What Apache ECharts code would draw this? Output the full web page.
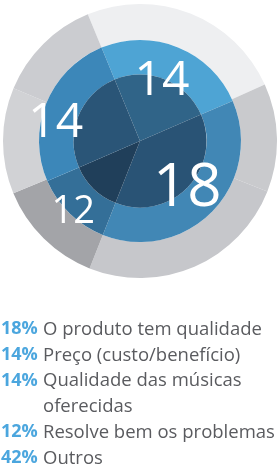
<!DOCTYPE html>
<html>
<head>
<meta charset="utf-8">
<script src="https://cdn.jsdelivr.net/npm/echarts@6/dist/echarts.min.js"></script>
<style>
html,body{margin:0;padding:0;background:#fff;}
#c{width:279px;height:465px;}
</style>
</head>
<body>
<div id="c"></div>
<script>
// Sector labels (values printed on the chart), clockwise from top
const sectorLabels = ['14', '18', '12', '14'];
// Angular size of each sector in degrees
const sectorAngles = [89, 135, 45, 91];
// Outer ring sub-segments (degrees)
const outerAngles = [88, 46, 90, 46, 45, 45];
// Legend rows
const legendPercents = ['18%', '14%', '14%', '12%', '42%'];
const legendTexts = ['O produto tem qualidade', 'Preço (custo/benefício)', 'Qualidade das músicas\noferecidas', 'Resolve bem os problemas', 'Outros'];

const chart = echarts.init(document.getElementById('c'), null, {renderer: 'canvas'});
const center = [140, 141];
const startAngle = 112.4;

const outerColors = ['#eeeff1', '#c9cacd', '#c6c7cb', '#a3a4a8', '#d1d2d5', '#cbccd0'];
const blueColors = ['#4ea4d4', '#4187b5', '#346f98', '#3c87b9'];
const innerColors = ['#306488', '#295375', '#203f5a', '#2a5577'];
const labelSizes = [48, 60, 38, 48];
const labelShift = [[-5, 7], [-4, -2], [-17, 20], [-18, 9]];

function pieData(vals, colors) {
  return vals.map((v, i) => ({value: v, itemStyle: {color: colors[i]}}));
}

const graphics = [];
let row = 0;
const y0 = 320, lh = 25.8;
legendTexts.forEach((t, i) => {
  const lines = t.split('\n');
  graphics.push({
    type: 'text', left: 1, top: y0 + row * lh,
    style: {text: legendPercents[i], font: 'bold 18px "Open Sans"', fill: '#4ba6de'}
  });
  lines.forEach((ln, j) => {
    graphics.push({
      type: 'text', left: 43, top: y0 + (row + j) * lh,
      style: {text: ln, font: '18.5px "Open Sans"', fill: '#5a5b5f'}
    });
  });
  row += lines.length;
});

chart.setOption({
  animation: false,
  series: [
    {
      type: 'pie', center: center, radius: [101, 137], startAngle: startAngle,
      silent: true, label: {show: false}, labelLine: {show: false},
      data: pieData(outerAngles, outerColors)
    },
    {
      type: 'pie', center: center, radius: [66.5, 101], startAngle: startAngle,
      silent: true, label: {show: false}, labelLine: {show: false},
      data: pieData(sectorAngles, blueColors)
    },
    {
      type: 'pie', center: center, radius: [0, 66.5], startAngle: startAngle,
      silent: true, label: {show: false}, labelLine: {show: false},
      data: pieData(sectorAngles, innerColors)
    },
    {
      type: 'pie', center: center, radius: [0, 137], startAngle: startAngle,
      silent: true, labelLine: {show: false},
      itemStyle: {color: 'rgba(0,0,0,0)'},
      label: {
        show: true, position: 'inside', color: '#ffffff',
        fontFamily: 'Open Sans', fontWeight: 'normal',
        formatter: p => sectorLabels[p.dataIndex]
      },
      labelLayout: p => ({dx: labelShift[p.dataIndex][0], dy: labelShift[p.dataIndex][1]}),
      data: sectorAngles.map((v, i) => ({value: v, label: {fontSize: labelSizes[i]}}))
    }
  ],
  graphic: graphics
});
</script>
</body>
</html>
